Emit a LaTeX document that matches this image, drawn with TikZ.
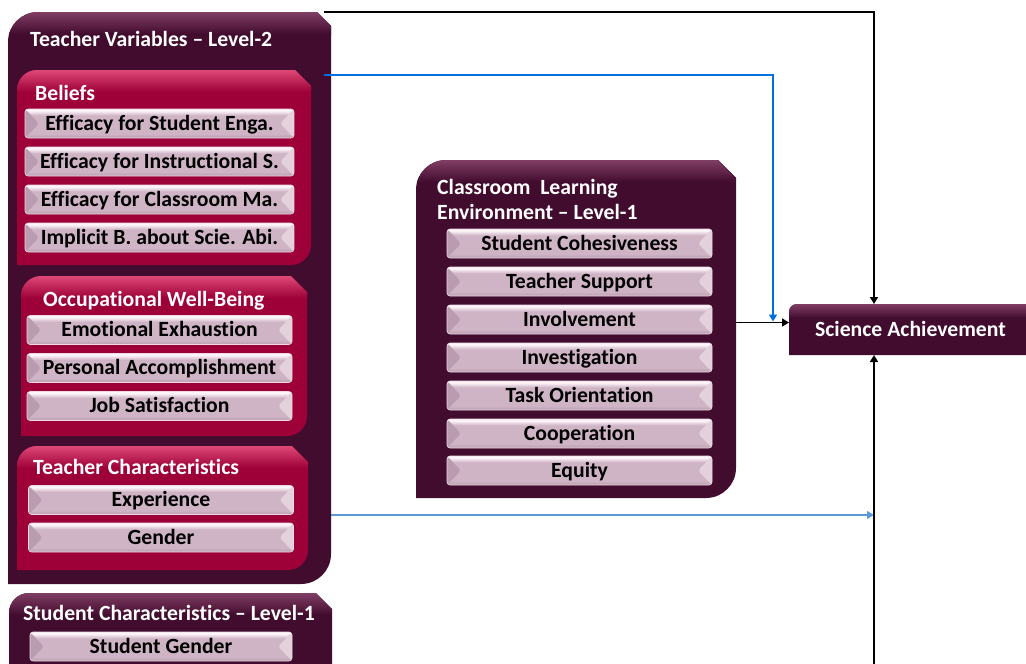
\documentclass[tikz,border=0pt]{standalone}
\usepackage{fontspec}
\setmainfont{Carlito}[Ligatures=NoCommon]
\usetikzlibrary{arrows.meta,calc,backgrounds}

\definecolor{plum}{RGB}{66,12,46}
\definecolor{plumlight}{RGB}{128,62,100}
\definecolor{crimson}{RGB}{158,0,56}
\definecolor{crimsonlight}{RGB}{222,72,118}
\definecolor{chip}{RGB}{207,180,197}
\definecolor{chipdark}{RGB}{186,156,176}
\definecolor{chiptop}{RGB}{252,244,249}
\definecolor{linkblue}{RGB}{0,112,224}
\definecolor{paleblue}{RGB}{91,155,213}

% vertical bevel for the item bars (bottom to top)
\pgfdeclareverticalshading{chipshade}{100bp}{%
  color(0bp)=(chipdark); color(25bp)=(chipdark); color(32bp)=(chip);
  color(64bp)=(chip); color(72bp)=(chiptop); color(100bp)=(chiptop)}

\newcommand\boxfont{\fontsize{21.7}{25}\selectfont\bfseries}

% outline: round top-left, snipped top-right, round bottom-right, square bottom-left
\newcommand\panelpath[3]{([yshift=-#2]#1.north west) arc[start angle=180,end angle=90,radius=#2]
  -- ([xshift=-#3]#1.north east) -- ([yshift=-#3]#1.north east)
  -- ([yshift=#2]#1.south east) arc[start angle=0,end angle=-90,radius=#2]
  -- (#1.south west) -- cycle}
\newcommand\panel[5]{%
  \fill[#4] \panelpath{#1}{#2}{#3};
  \begin{scope}
    \clip \panelpath{#1}{#2}{#3};
    \shade[top color=#5,bottom color=#4] (#1.north west) rectangle ([yshift=-22pt]#1.north east);
  \end{scope}}

\begin{document}
\begin{tikzpicture}[x=1pt,y=-1pt,
  frame/.style={rectangle,inner sep=0pt,outer sep=0pt,anchor=north west},
  chip/.style={rectangle,rounded corners=3pt,inner sep=0pt,outer sep=0pt,
    minimum height=29pt,text height=15pt,text depth=2pt,
    shading=chipshade,draw=chiptop!60!chip,line width=0.6pt,
    font=\boxfont,text=black,
    path picture={
      \fill[chipdark] (path picture bounding box.north west)
        -- ([xshift=14pt,yshift=-14.5pt]path picture bounding box.north west)
        -- (path picture bounding box.south west) -- cycle;
      \fill[chiptop!45!chip] (path picture bounding box.north east)
        -- ([xshift=-14pt,yshift=-14.5pt]path picture bounding box.north east)
        -- (path picture bounding box.south east) -- cycle;}},
  title/.style={anchor=base west,inner sep=0pt,text=white,font=\boxfont},
  link/.style={line width=1.6pt,-{Triangle[length=7pt,width=8pt]}},
]
\useasboundingbox (0,0) rectangle (1026,664);

% containers
\node[frame,minimum width=323pt,minimum height=572pt] (teacher) at (8,12) {};
\node[frame,minimum width=294pt,minimum height=195pt] (beliefs) at (17,70) {};
\node[frame,minimum width=286pt,minimum height=160pt] (wellbeing) at (21,276) {};
\node[frame,minimum width=291pt,minimum height=124pt] (tchar) at (17,446) {};
\node[frame,minimum width=323pt,minimum height=100pt] (student) at (9,593) {};
\node[frame,minimum width=320pt,minimum height=338pt] (classenv) at (416,160) {};
\node[frame,minimum width=237pt,minimum height=51pt,text=white,font=\boxfont,
      text height=15pt,text depth=2pt] (sci) at (789,304) {\hspace{6pt}Science Achievement};

\begin{scope}[on background layer]
  \panel{teacher}{30pt}{14pt}{plum}{plumlight}
  \panel{beliefs}{20pt}{16pt}{crimson}{crimsonlight}
  \panel{wellbeing}{20pt}{16pt}{crimson}{crimsonlight}
  \panel{tchar}{20pt}{16pt}{crimson}{crimsonlight}
  \panel{student}{20pt}{16pt}{plum}{plumlight}
  \panel{classenv}{30pt}{18pt}{plum}{plumlight}
  \fill[plum] ([yshift=-8pt]sci.north west) arc[start angle=180,end angle=90,radius=8pt]
    -- (sci.north east) -- (sci.south east) -- (sci.south west) -- cycle;
  \begin{scope}
    \clip ([yshift=-8pt]sci.north west) arc[start angle=180,end angle=90,radius=8pt]
      -- (sci.north east) -- (sci.south east) -- (sci.south west) -- cycle;
    \shade[top color=plumlight,bottom color=plum] (sci.north west) rectangle ([yshift=-14pt]sci.north east);
  \end{scope}
\end{scope}

% titles
\node[title] (tteacher) at (30,46) {Teacher Variables – Level-2};
\node[title] (tbeliefs) at (35,100) {Beliefs};
\node[title] (twell) at (43,306) {Occupational Well-Being};
\node[title] (ttchar) at (33,474) {Teacher Characteristics};
\node[title] (tstudent) at (23,620) {Student Characteristics – Level-1};
\node[title] (tclass1) at (437,194) {Classroom\ \ Learning};
\node[title] (tclass2) at (437,219) {Environment – Level-1};

% item bars
\begin{scope}[every node/.append style={chip,minimum width=269pt}]
  \node (b1) at (159.5,123.5) {Efficacy for Student Enga.};
  \node (b2) at (159.5,161.5) {Efficacy for Instructional S.};
  \node (b3) at (159.5,199.5) {Efficacy for Classroom Ma.};
  \node (b4) at (159.5,237.5) {Implicit B. about Scie. Abi.};
\end{scope}
\begin{scope}[every node/.append style={chip,minimum width=265pt}]
  \node (o1) at (159.5,330) {Emotional Exhaustion};
  \node (o2) at (159.5,368) {Personal Accomplishment};
  \node (o3) at (159.5,406) {Job Satisfaction};
  \node (e1) at (161,500) {Experience};
  \node (e2) at (161,537.5) {Gender};
\end{scope}
\node[chip,minimum width=262pt] (s1) at (161,646.5) {Student Gender};
\begin{scope}[every node/.append style={chip,minimum width=265pt}]
  \node (c1) at (579.5,243.5) {Student Cohesiveness};
  \node (c2) at (579.5,281.5) {Teacher Support};
  \node (c3) at (579.5,319.5) {Involvement};
  \node (c4) at (579.5,357.5) {Investigation};
  \node (c5) at (579.5,395.5) {Task Orientation};
  \node (c6) at (579.5,433.5) {Cooperation};
  \node (c7) at (579.5,470.5) {Equity};
\end{scope}

% connectors into Science Achievement
\coordinate (topin) at ([xshift=-33.5pt]sci.north);
\coordinate (botin) at ([xshift=-33.5pt]sci.south);
\coordinate (bluein) at ([xshift=-16pt,yshift=8pt]sci.west);
\coordinate (sidein) at ([yshift=7pt]sci.west);
\coordinate (floor) at (874,668);

\draw[link,line cap=rect] ([xshift=-6pt]teacher.north east) -| (topin);
\draw[link,linkblue,line width=1.7pt] ([xshift=-7pt,yshift=-5pt]teacher.east |- beliefs.north) -| (bluein);
\draw[link] (classenv.east |- sidein) -- (sidein);
\draw[link,paleblue,line width=1.3pt] ([yshift=-7pt]tchar.east -| teacher.east) -- ([yshift=-7pt]tchar.east -| topin);
\draw[link] (floor) -- (botin);
\end{tikzpicture}
\end{document}
